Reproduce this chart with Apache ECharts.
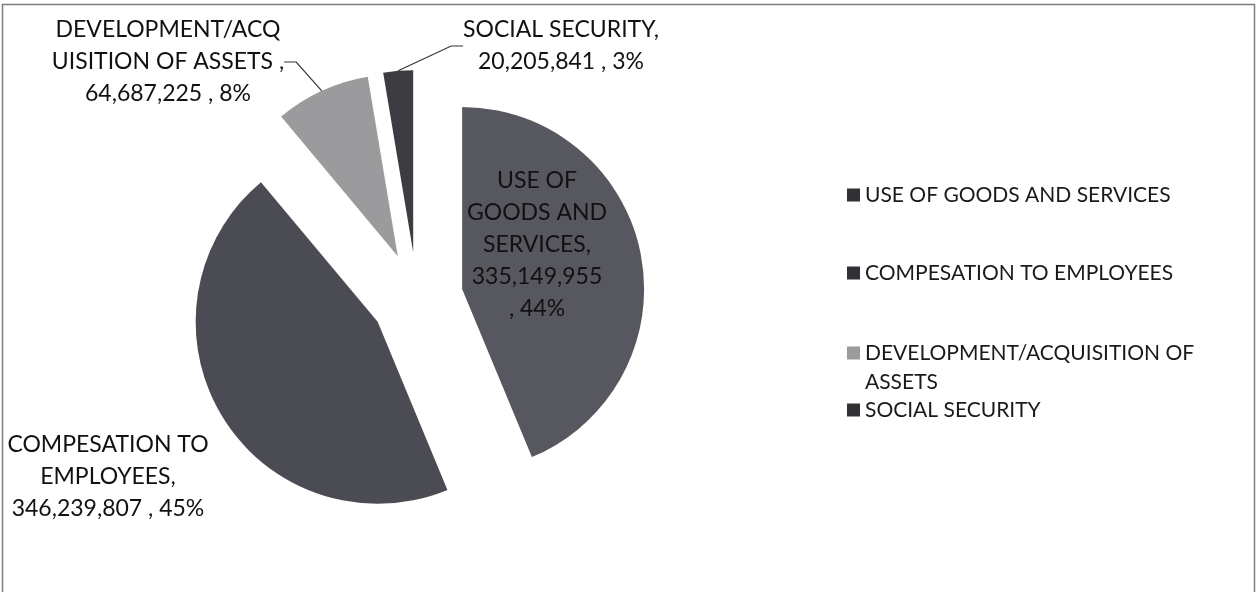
<!DOCTYPE html>
<html>
<head>
<meta charset="utf-8">
<script src="https://cdn.jsdelivr.net/npm/echarts@6/dist/echarts.min.js"></script>
<style>
  html, body { margin: 0; padding: 0; background: #ffffff; }
  #chart { width: 1257px; height: 592px; }
</style>
</head>
<body>
<div id="chart"></div>
<script>
// Expenditure categories and amounts
const categories = [
  'USE OF GOODS AND SERVICES',
  'COMPESATION TO EMPLOYEES',
  'DEVELOPMENT/ACQUISITION OF ASSETS',
  'SOCIAL SECURITY'
];
const amounts = [335149955, 346239807, 64687225, 20205841];

// Legend text (wrapped) and slice label templates ({v} = amount, {p} = percent)
const legendTexts = [
  'USE OF GOODS AND SERVICES',
  'COMPESATION TO EMPLOYEES',
  'DEVELOPMENT/ACQUISITION OF\nASSETS',
  'SOCIAL SECURITY'
];
const sliceLabelTemplates = [
  'USE OF\nGOODS AND\nSERVICES,\n{v}\n, {p}%',
  'COMPESATION TO\nEMPLOYEES,\n{v} , {p}%',
  'DEVELOPMENT/ACQ\nUISITION OF ASSETS ,\n{v} , {p}%',
  'SOCIAL SECURITY,\n{v} , {p}%'
];

// Styling and layout
const sliceColors = ['#57575f', '#4b4b53', '#9b9b9d', '#3c3c43'];
const legendColors = ['#303035', '#303035', '#9b9b9d', '#303035'];
const labelAnchors = [[537, 245], [108, 477], [168, 62], [561, 46]];
const legendRowCenters = [195, 273, 353, 410];
const PIE_CENTER = [417, 298];
const PIE_RADIUS = 182;
const EXPLODE = 46;
const FONT = 'Lato, "Open Sans", sans-serif';
const LINE_H = 29;

// Mid-angle of every slice (clockwise from 12 o'clock), used to push each slice outwards
const total = amounts.reduce((a, b) => a + b, 0);
let running = 0;
const midAngles = amounts.map(v => {
  const m = (running + v / 2) / total * 2 * Math.PI;
  running += v;
  return m;
});

const chart = echarts.init(document.getElementById('chart'), null, { renderer: 'canvas' });

// One legend block per entry so each row sits at its own height.
// Wrapped entries get a blank leading line so the marker lines up with the first text line.
const legends = categories.map((name, i) => {
  const extraLines = legendTexts[i].split('\n').length - 1;
  return {
    orient: 'vertical',
    left: 847,
    top: legendRowCenters[i] - LINE_H / 2 - extraLines * LINE_H,
    padding: 0,
    icon: 'rect',
    itemWidth: 13,
    itemHeight: 13,
    selectedMode: false,
    textStyle: { fontFamily: FONT, fontSize: 21, lineHeight: LINE_H, color: '#1a1a1a' },
    data: [{ name: name, itemStyle: { color: legendColors[i] } }],
    formatter: n => {
      const t = legendTexts[categories.indexOf(n)];
      const lines = t.split('\n');
      return new Array(lines.length).join('\n') + t;
    }
  };
});

// Each slice is drawn by its own pie layer whose centre is shifted along the slice's mid-angle
const series = categories.map((seriesName, k) => ({
  type: 'pie',
  name: seriesName,
  center: [
    PIE_CENTER[0] + EXPLODE * Math.sin(midAngles[k]),
    PIE_CENTER[1] - EXPLODE * Math.cos(midAngles[k])
  ],
  radius: PIE_RADIUS,
  startAngle: 90,
  clockwise: true,
  avoidLabelOverlap: false,
  legendHoverLink: false,
  emphasis: { disabled: true },
  label: {
    show: true,
    position: 'outside',
    fontFamily: FONT,
    fontSize: 23,
    lineHeight: 32,
    color: '#111111',
    align: 'center',
    formatter: p => sliceLabelTemplates[p.dataIndex]
      .replace('{v}', p.value.toLocaleString('en-US'))
      .replace('{p}', Math.round(p.percent))
  },
  labelLine: {
    show: true,
    length: 12,
    length2: 12,
    lineStyle: { color: '#333333', width: 1.2 }
  },
  labelLayout: p => p.dataIndex === k ? {
    x: labelAnchors[k][0],
    y: labelAnchors[k][1],
    align: 'center',
    verticalAlign: 'middle'
  } : {},
  data: categories.map((name, i) => ({
    name: name,
    value: amounts[i],
    silent: i !== k,
    itemStyle: { color: i === k ? sliceColors[i] : 'rgba(0,0,0,0)' },
    label: { show: i === k, position: i === 0 ? 'inside' : 'outside' },
    labelLine: { show: i === k && i >= 2 }
  }))
}));

chart.setOption({
  animation: false,
  backgroundColor: '#ffffff',
  graphic: [{
    type: 'rect',
    silent: true,
    shape: { x: 2.5, y: 4.5, width: 1252, height: 620 },
    style: { fill: 'none', stroke: '#7d7d7d', lineWidth: 1.5 }
  }],
  legend: legends,
  series: series
});
</script>
</body>
</html>
